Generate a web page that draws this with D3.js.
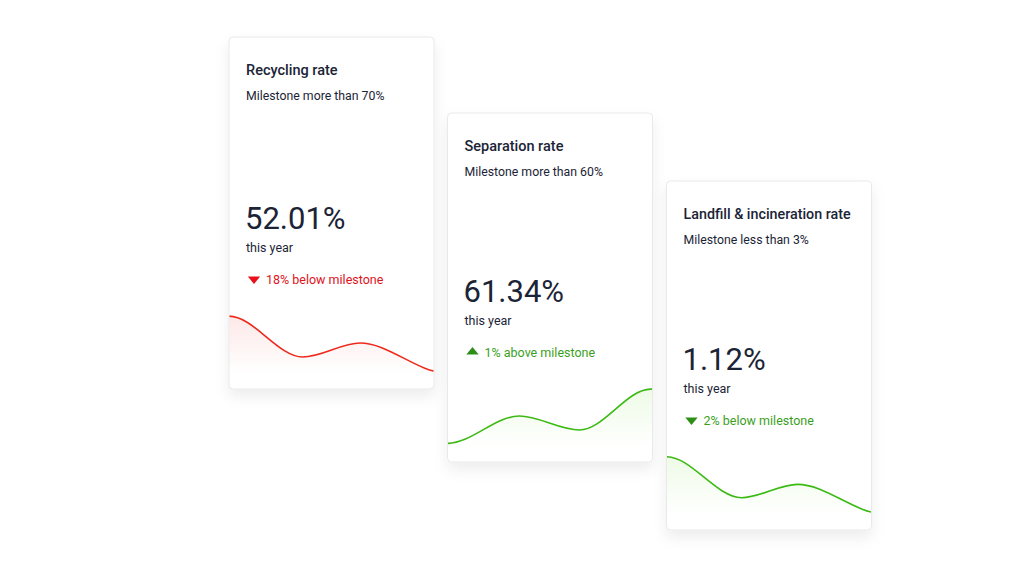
<!DOCTYPE html>
<html>
<head>
<meta charset="utf-8">
<script src="https://cdn.jsdelivr.net/npm/d3@7"></script>
<style>
  html, body { margin: 0; padding: 0; background: #fff; }
  svg { display: block; font-family: Roboto, "Noto Sans", sans-serif; }
</style>
</head>
<body>
<div id="container"></div>
<script>
// card contents
const titles = ["Recycling rate", "Separation rate", "Landfill & incineration rate"];
const milestones = ["Milestone more than 70%", "Milestone more than 60%", "Milestone less than 3%"];
const rates = [52.01, 61.34, 1.12];
const deltas = [18, 1, 2];
const directions = ["below", "above", "below"];
const statuses = ["bad", "good", "good"];

// trend sparklines: position along the year (0..1, visible part) and index value (0..100)
const trendRecyclingPos = [-0.36, 0, 0.36, 0.64, 1.06, 1.4];
const trendRecyclingVal = [29, 87, 28.6, 48.6, 6, 30];
const trendSeparationPos = [-0.3, 0, 0.35, 0.644, 0.99, 1.3];
const trendSeparationVal = [30, 9.5, 48.6, 28.6, 87, 60];
const trendLandfillPos = [-0.366, 0, 0.366, 0.639, 1.06, 1.4];
const trendLandfillVal = [29, 87.6, 29, 48.1, 6, 30];
const trendPos = [trendRecyclingPos, trendSeparationPos, trendLandfillPos];
const trendVal = [trendRecyclingVal, trendSeparationVal, trendLandfillVal];

const W = 1030, H = 580;
const cards = [
  { x: 229, y: 37, w: 205, h: 352, titleSize: 14.5 },
  { x: 447.5, y: 113, w: 205, h: 349, titleSize: 14.5 },
  { x: 666.5, y: 181, w: 205, h: 349, titleSize: 14.3 }
];
const palette = {
  bad: { line: "#ee2a1c", text: "#e0121c", tri: "#e8101a", fill: "#f5a3a0" },
  good: { line: "#3cba14", text: "#3a9f1c", tri: "#2e8f18", fill: "#b8ee9a" }
};

const svg = d3.select("#container").append("svg")
  .attr("width", W)
  .attr("height", H);

svg.append("rect").attr("width", W).attr("height", H).attr("fill", "#fff");

const defs = svg.append("defs");
const shadow = defs.append("filter")
  .attr("id", "card-shadow")
  .attr("x", "-20%").attr("y", "-20%")
  .attr("width", "140%").attr("height", "140%");
shadow.append("feDropShadow")
  .attr("dx", 0).attr("dy", 7)
  .attr("stdDeviation", 7)
  .attr("flood-color", "#000")
  .attr("flood-opacity", 0.07);

cards.forEach((c, i) => {
  const col = palette[statuses[i]];
  const g = svg.append("g").attr("transform", `translate(${c.x},${c.y})`);

  g.append("rect")
    .attr("width", c.w)
    .attr("height", c.h)
    .attr("rx", 4)
    .attr("fill", "#fff")
    .attr("stroke", "#e9e9eb")
    .attr("stroke-width", 1)
    .attr("filter", "url(#card-shadow)");

  // clip for sparkline
  defs.append("clipPath").attr("id", `clip-${i}`)
    .append("rect").attr("x", c.x + 0.5).attr("y", c.y + 0.5)
    .attr("width", c.w - 1).attr("height", c.h - 1).attr("rx", 4);

  g.append("text")
    .attr("x", 17).attr("y", 37.5)
    .attr("fill", "#1b2436")
    .style("font-size", c.titleSize + "px")
    .style("font-weight", 500)
    .text(titles[i]);

  g.append("text")
    .attr("x", 17).attr("y", 63)
    .attr("fill", "#1b2436")
    .style("font-size", "12.3px")
    .text(milestones[i]);

  const b = c.h;
  g.append("text")
    .attr("x", 16).attr("y", b - 160)
    .attr("fill", "#1b2436")
    .style("font-size", "31px")
    .text(d3.format(".2f")(rates[i]) + "%");

  g.append("text")
    .attr("x", 17).attr("y", b - 137.5)
    .attr("fill", "#1b2436")
    .style("font-size", "12.5px")
    .text("this year");

  const up = directions[i] === "above";
  g.append("path")
    .attr("d", d3.symbol(d3.symbolTriangle, 60)())
    .attr("transform", `translate(25,${b - 110}) scale(1.05,${up ? 0.72 : -0.72})`)
    .attr("fill", col.tri);

  g.append("text")
    .attr("x", 37).attr("y", b - 105.5)
    .attr("fill", col.text)
    .style("font-size", "12.5px")
    .text(`${deltas[i]}% ${directions[i]} milestone`);

  // sparkline
  const pts = trendPos[i].map((p, j) => [p, trendVal[i][j]]);
  const x = d3.scaleLinear().domain([0, 1]).range([c.x, c.x + c.w]);
  const y = d3.scaleLinear().domain([0, 100]).range([c.y + c.h - 12, c.y + c.h - 82]);

  const gradId = `grad-${i}`;
  const grad = defs.append("linearGradient")
    .attr("id", gradId)
    .attr("gradientUnits", "userSpaceOnUse")
    .attr("x1", 0).attr("x2", 0)
    .attr("y1", c.y + c.h - 82).attr("y2", c.y + c.h - 15);
  grad.append("stop").attr("offset", "0%").attr("stop-color", col.fill).attr("stop-opacity", 0.28);
  grad.append("stop").attr("offset", "100%").attr("stop-color", col.fill).attr("stop-opacity", 0);

  const spark = svg.append("g").attr("clip-path", `url(#clip-${i})`);

  spark.append("path")
    .datum(pts)
    .attr("fill", `url(#${gradId})`)
    .attr("d", d3.area()
      .x(d => x(d[0]))
      .y0(c.y + c.h)
      .y1(d => y(d[1]))
      .curve(d3.curveMonotoneX));

  spark.append("path")
    .datum(pts)
    .attr("fill", "none")
    .attr("stroke", col.line)
    .attr("stroke-width", 1.6)
    .attr("d", d3.line()
      .x(d => x(d[0]))
      .y(d => y(d[1]))
      .curve(d3.curveMonotoneX));
});
</script>
</body>
</html>
